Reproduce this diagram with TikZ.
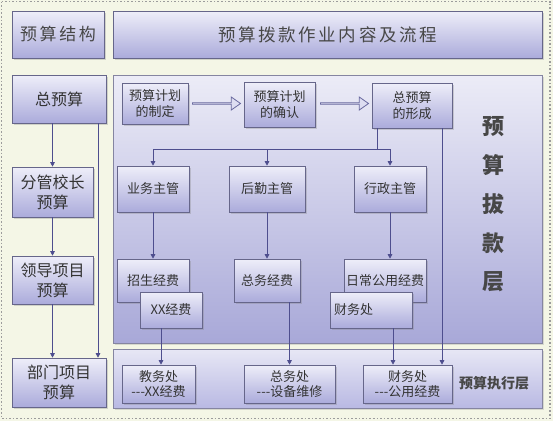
\documentclass[tikz,border=0pt]{standalone}
\usepackage{fontspec}
\setmainfont{Noto Sans CJK SC}
\newfontfamily\hdrfont[LetterSpace=15]{Noto Sans CJK SC}
\usetikzlibrary{arrows.meta,positioning,shadows,shapes.arrows}

\definecolor{paper}{HTML}{F4F6E6}
\definecolor{frame}{HTML}{9C9C9C}
\definecolor{ink}{HTML}{333333}
\definecolor{boxline}{HTML}{66668A}
\definecolor{boxtop}{HTML}{EEEEF9}
\definecolor{boxbot}{HTML}{ABABDB}
\definecolor{pantop}{HTML}{ECECF7}
\definecolor{panbot}{HTML}{A8A8D8}
\definecolor{exetop}{HTML}{E7E7F5}
\definecolor{exebot}{HTML}{B9B9E3}
\definecolor{wire}{HTML}{4E4E8E}
\definecolor{fatfill}{HTML}{DDDDF1}

\begin{document}
\begin{tikzpicture}[
  x=1pt, y=-1pt,
  font=\fontsize{13}{15.5}\selectfont, text=ink,
  box/.style={
    draw=boxline, line width=0.6pt, align=center, inner sep=2pt,
    top color=boxtop, bottom color=boxbot,
    drop shadow={opacity=0.3, shadow xshift=1.5pt, shadow yshift=-1.5pt}
  },
  hdr/.style   ={box, font=\hdrfont\fontsize{17}{20}\selectfont, text=ink!90},
  side/.style  ={box, font=\fontsize{16}{20}\selectfont},
  panel/.style ={draw=boxline!80, line width=0.6pt, top color=pantop, bottom color=panbot,
    drop shadow={opacity=0.25, shadow xshift=1.5pt, shadow yshift=-1.5pt}},
  exepanel/.style={panel, top color=exetop, bottom color=exebot},
  fat/.style   ={single arrow, draw=wire!85, fill=fatfill, line width=0.8pt,
    minimum width=13, minimum height=48, inner sep=0pt,
    single arrow head extend=3pt, single arrow tip angle=70},
  flow/.style  ={-{Triangle[length=4.5pt,width=4.5pt]}, line width=0.8pt, draw=wire},
  link/.style  ={line width=0.8pt, draw=wire},
  vtext/.style ={font=\bfseries\fontsize{22}{38.75}\selectfont, align=center, text=ink!90},
  tag/.style   ={font=\bfseries\fontsize{14}{16}\selectfont, text=ink!90}
]

% =================== BACKGROUND ===================
\useasboundingbox (0,0) rectangle (553,421);
\fill[paper] (0,0) rectangle (553,421);
\draw[frame, dotted, line width=1.6pt] (1.5,1.5) rectangle (550,418.5);

% =================== HEADERS ===================
\node[hdr, minimum width=92, minimum height=47]  (hstruct) at (58,34.5)    {预算结构};
\node[hdr, minimum width=429, minimum height=47, font=\hdrfont\fontsize{17.5}{20}\selectfont] (hflow) at (327.5,34.5) {预算拨款作业内容及流程};

% =================== PANELS ===================
\node[panel, minimum width=429, minimum height=268]  (pgrant) at (327.5,209) {};
\node[exepanel, minimum width=429, minimum height=59] (pexec)  at (327.5,378.5) {};

% =================== LEFT COLUMN ===================
\node[side, minimum width=94, minimum height=48] (tot)  at (59,99)      {总预算};
\node[side, minimum width=81, minimum height=50] (vp)   at (52.5,192)   {分管校长\\预算};
\node[side, minimum width=81, minimum height=48] (lead) at (52.5,280)   {领导项目\\预算};
\node[side, minimum width=94, minimum height=49] (dept) at (59,382.5)   {部门项目\\预算};

% =================== GRANT LAYER ===================
\node[box, minimum width=66, minimum height=41] (plan) at (155,103.5)  {预算计划\\的制定};
\node[box, minimum width=71, minimum height=45] (conf) at (279.5,104.5) {预算计划\\的确认};
\node[box, minimum width=80, minimum height=45] (form) at (412,105.5)  {总预算\\的形成};

\node[fat] (fat1) at (216,103.5) {};
\node[fat] (fat2) at (344,103.5) {};

\node[box, minimum width=72, minimum height=46] (biz) at (153,189) {业务主管};
\node[box, minimum width=76, minimum height=46] (log) at (267,189) {后勤主管};
\node[box, minimum width=72, minimum height=46] (adm) at (390,189) {行政主管};

\node[box, minimum width=72, minimum height=43] (fund1) at (153,280.5) {招生经费};
\node[box, minimum width=66, minimum height=43] (fund2) at (267,280.5) {总务经费};
\node[box, minimum width=82, minimum height=43] (fund3) at (385,280.5) {日常公用经费};

\node[box, minimum width=62, minimum height=36] (xxf) at (171,310) {XX经费};
\node[box, minimum width=82, minimum height=36, text width=74, align=left] (fin) at (371,310) {财务处};

\node[vtext] (lvl) at (493,204.5) {预\\算\\拔\\款\\层};

% =================== EXECUTION LAYER ===================
\node[box, minimum width=73, minimum height=38] (edu)  at (158.5,384) {教务处\\-{}-{}-XX经费};
\node[box, minimum width=91, minimum height=38] (gen)  at (289.5,384) {总务处\\-{}-{}-设备维修};
\node[box, minimum width=89, minimum height=38] (finx) at (407.5,384) {财务处\\-{}-{}-公用经费};
\node[tag] (exe) at (494,383) {预算执行层};

% =================== ARROWS ===================
% left column
\draw[flow] (vp.north |- tot.south) -- (vp.north);
\draw[flow] (vp) -- (lead);
\draw[flow] (lead.south) -- (lead.south |- dept.north);
\draw[flow] ([xshift=39]tot.south) -- ([xshift=39]tot.south |- dept.north);

% total budget -> managers
\draw[link] ([xshift=-35]form.south) -- ++(0,21) coordinate (split);
\draw[flow] (split) -| (biz.north);
\draw[flow] (split) -| (log.north);
\draw[flow] (split) -| (adm.north);

% managers -> funds
\draw[flow] (biz) -- (fund1);
\draw[flow] (log) -- (fund2);
\draw[flow] (adm.south) -- (adm.south |- fund3.north);

% funds -> execution
\draw[flow] ([xshift=-10]xxf.south) -- ([xshift=-10]xxf.south |- edu.north);
\draw[flow] (gen.north |- fund2.south) -- (gen.north);
\draw[flow] ([xshift=22]fin.south) -- ([xshift=22]fin.south |- finx.north);
\draw[flow] ([xshift=30]form.south) -- ([xshift=30]form.south |- finx.north);

\end{tikzpicture}
\end{document}
